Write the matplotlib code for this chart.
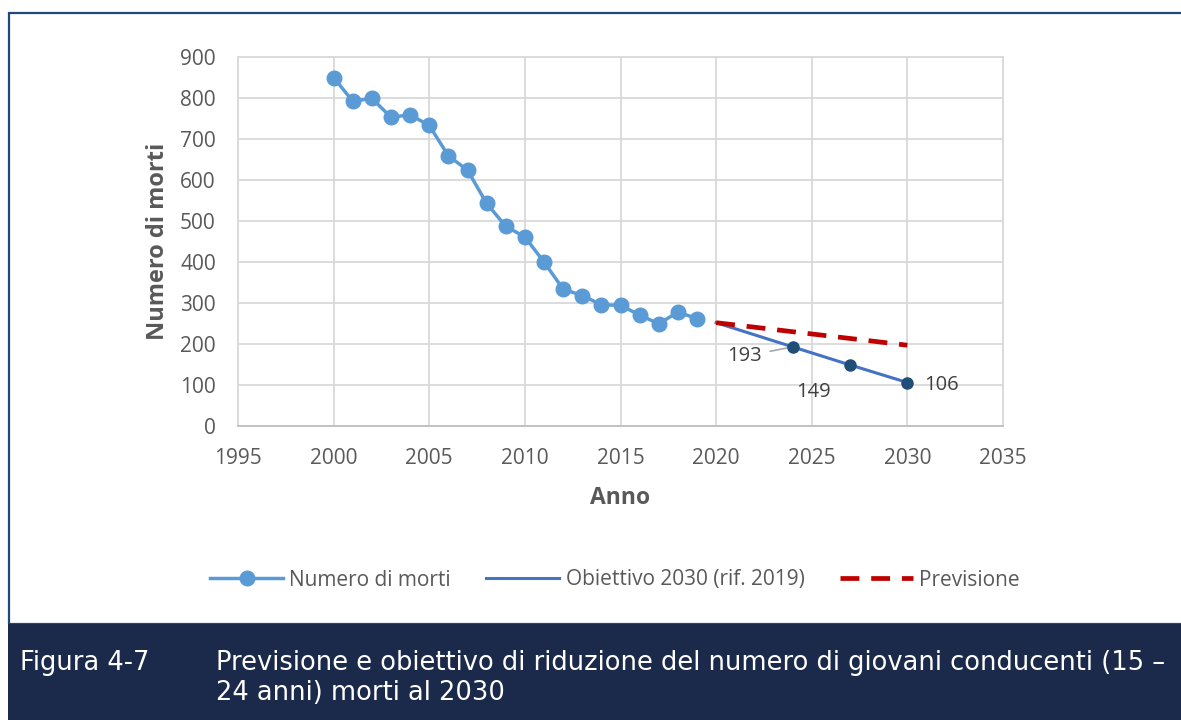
import matplotlib
matplotlib.use('Agg')
import matplotlib.pyplot as plt
from matplotlib.patches import Rectangle

# dati
anni = list(range(2000, 2020))
morti = [850, 792, 799, 753, 759, 733, 659, 624, 543, 487,
         461, 400, 334, 318, 296, 294, 271, 249, 278, 262]

anni_obiettivo = [2020, 2024, 2027, 2030]
valori_obiettivo = [252, 193, 149, 106]
etichette_obiettivo = ['193', '149', '106']

anni_previsione = [2020, 2030]
valori_previsione = [252, 197]

x_ticks = list(range(1995, 2040, 5))
y_ticks = list(range(0, 1000, 100))

legenda = ['Numero di morti', 'Obiettivo 2030 (rif. 2019)', 'Previsione']
didascalia_num = 'Figura 4-7'
didascalia = ('Previsione e obiettivo di riduzione del numero di giovani conducenti (15 –\n'
              '24 anni) morti al 2030')

plt.rcParams['font.family'] = ['Open Sans', 'DejaVu Sans']
grigio = '#595959'

fig = plt.figure(figsize=(11.81, 7.2), dpi=100)

# cornice e box didascalia
fig.patches.append(Rectangle((9/1181, 96/720), 1.0, 1 - 13/720 - 96/720,
                             transform=fig.transFigure, fill=False,
                             edgecolor='#1f497d', linewidth=1.6))
fig.patches.append(Rectangle((8/1181, 0), 1.0, 96/720, transform=fig.transFigure,
                             facecolor='#1b2a4a', edgecolor='none'))

ax = fig.add_axes([238/1181, 1 - 426/720, (1003 - 238)/1181, (426 - 57)/720])

l1, = ax.plot(anni, morti, color='#5b9bd5', linewidth=2.5, marker='o',
              markersize=10.5, zorder=3)
l2, = ax.plot(anni_obiettivo, valori_obiettivo, color='#4472c4', linewidth=2.2, zorder=3)
ax.plot(anni_obiettivo[1:], valori_obiettivo[1:], linestyle='none', marker='o',
        markersize=8, color='#1f4e79', zorder=4)
l3, = ax.plot(anni_previsione, valori_previsione, color='#c00000', linewidth=3.4,
              dashes=(4, 2.5), zorder=3)

# etichette obiettivo
ax.annotate(etichette_obiettivo[0], xy=(anni_obiettivo[1], valori_obiettivo[1]),
            xytext=(2022.4, 170), ha='right', va='center', fontsize=14.5, color='#404040',
            arrowprops=dict(arrowstyle='-', color='#a6a6a6', lw=1.2,
                            shrinkA=4, shrinkB=4))
ax.text(2025.1, 83, etichette_obiettivo[1],
        ha='center', va='center', fontsize=14.5, color='#404040')
ax.text(2030.9, 101, etichette_obiettivo[2],
        ha='left', va='center', fontsize=14.5, color='#404040')

ax.set_xlim(1995, 2035)
ax.set_ylim(0, 900)
ax.set_xticks(x_ticks)
ax.set_yticks(y_ticks)
ax.grid(True, color='#d9d9d9', linewidth=1.3)
ax.set_axisbelow(True)
for s in ax.spines.values():
    s.set_color('#d9d9d9')
    s.set_linewidth(1.3)
ax.spines['bottom'].set_color('#bfbfbf')
ax.tick_params(length=0, labelsize=15, labelcolor=grigio)
ax.tick_params(axis='x', pad=16)
ax.tick_params(axis='y', pad=16)

ax.set_xlabel('Anno', fontsize=16.5, fontweight='bold', color=grigio, labelpad=12)
ax.set_ylabel('Numero di morti', fontsize=17, fontweight='bold', color=grigio, labelpad=7)

fig.legend([l1, l2, l3], legenda, loc='center', bbox_to_anchor=(615/1181, 1 - 580/720),
           ncol=3, frameon=False, fontsize=15, labelcolor=grigio, handlelength=3.5,
           handletextpad=0.3, columnspacing=1.7)

fig.text(20/1181, 1 - 663/720, didascalia_num, fontsize=18.5, color='white', va='center',
         family='DejaVu Sans')
fig.text(216/1181, 1 - 678/720, didascalia, fontsize=18.5, color='white', va='center',
         linespacing=1.18, family='DejaVu Sans')

fig.savefig('out.png', dpi=100)
